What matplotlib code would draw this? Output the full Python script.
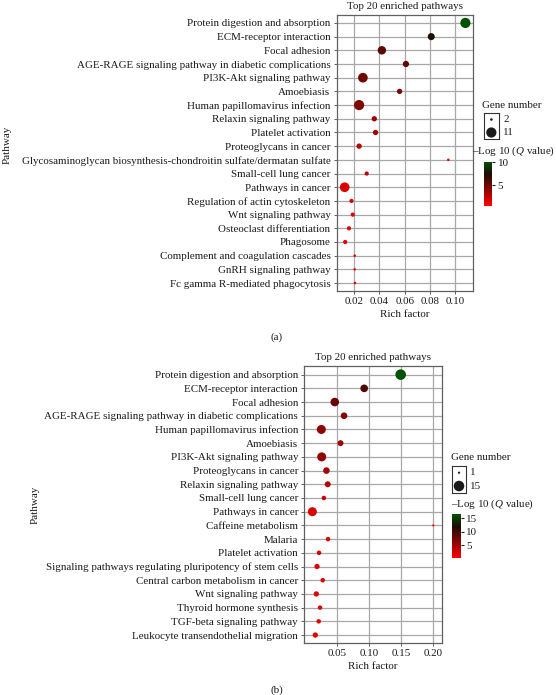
import numpy as np
import matplotlib
matplotlib.use("Agg")
import matplotlib.pyplot as plt
from matplotlib.colors import LinearSegmentedColormap, Normalize
from matplotlib.cm import ScalarMappable

plt.rcParams['font.family'] = ['Liberation Serif', 'DejaVu Serif']
plt.rcParams['mathtext.fontset'] = 'custom'
plt.rcParams['mathtext.rm'] = 'Liberation Serif'
plt.rcParams['mathtext.it'] = 'Liberation Serif:italic'

# ---------------- data: panel (a) ----------------
paths_a = ["Protein digestion and absorption", "ECM-receptor interaction", "Focal adhesion",
           "AGE-RAGE signaling pathway in diabetic complications", "PI3K-Akt signaling pathway",
           "Amoebiasis", "Human papillomavirus infection", "Relaxin signaling pathway",
           "Platelet activation", "Proteoglycans in cancer",
           "Glycosaminoglycan biosynthesis-chondroitin sulfate/dermatan sulfate",
           "Small-cell lung cancer", "Pathways in cancer", "Regulation of actin cytoskeleton",
           "Wnt signaling pathway", "Osteoclast differentiation", "Phagosome",
           "Complement and coagulation cascades", "GnRH signaling pathway",
           "Fc gamma R-mediated phagocytosis"]
rich_a = [0.108, 0.081, 0.042, 0.061, 0.027, 0.056, 0.024, 0.036, 0.037, 0.024,
          0.0945, 0.030, 0.0126, 0.018, 0.019, 0.016, 0.013, 0.0205, 0.0205, 0.0207]
genes_a = [11, 6, 8, 5, 10, 4, 11, 4, 4, 4, 2, 3, 10, 3, 3, 3, 3, 2, 2, 2]
q_a = [10.1, 7.6, 5.6, 5.4, 5.0, 4.6, 4.5, 3.6, 3.5, 2.8, 0.6, 2.4, 1.8, 1.8, 1.7, 1.6, 1.4, 1.3, 1.3, 1.3]

# ---------------- data: panel (b) ----------------
paths_b = ["Protein digestion and absorption", "ECM-receptor interaction", "Focal adhesion",
           "AGE-RAGE signaling pathway in diabetic complications", "Human papillomavirus infection",
           "Amoebiasis", "PI3K-Akt signaling pathway", "Proteoglycans in cancer",
           "Relaxin signaling pathway", "Small-cell lung cancer", "Pathways in cancer",
           "Caffeine metabolism", "Malaria", "Platelet activation",
           "Signaling pathways regulating pluripotency of stem cells",
           "Central carbon metabolism in cancer", "Wnt signaling pathway",
           "Thyroid hormone synthesis", "TGF-beta signaling pathway",
           "Leukocyte transendothelial migration"]
rich_b = [0.149, 0.092, 0.046, 0.0605, 0.025, 0.055, 0.0256, 0.033, 0.035, 0.029, 0.011,
          0.200, 0.0355, 0.0214, 0.0183, 0.0272, 0.0172, 0.0230, 0.0209, 0.0156]
genes_b = [15, 8, 10, 6, 11, 5, 11, 6, 5, 3, 11, 1, 3, 3, 4, 3, 4, 3, 3, 4]
q_b = [16.5, 9.5, 8.0, 6.6, 6.2, 5.2, 6.0, 5.0, 4.2, 3.2, 2.2, 0.2, 2.2, 2.2, 2.0, 2.0, 2.0, 2.0, 1.9, 1.9]

legend_genes_a = [2, 11]
legend_genes_b = [1, 15]
cticks_a = [5, 10]
cticks_b = [5, 10, 15]

W, H = 556, 695
fig = plt.figure(figsize=(W / 100, H / 100), dpi=100)

def box(x0, y0, x1, y1):
    return [x0 / W, 1 - y1 / H, (x1 - x0) / W, (y1 - y0) / H]

cmap = LinearSegmentedColormap.from_list(
    'rbg', [(0, '#ff0000'), (0.72, '#1e0c04'), (1, '#005200')])

FS = 7.9
TXT = '#1a1a1a'
GRID = '#a8a8a8'
SPINE = '#606060'

def sizes(g, glo, ghi, smin, smax):
    g = np.asarray(g, float)
    return smin + (g - glo) / (ghi - glo) * (smax - smin)

def panel(ax_box, paths, rich, genes, q, xlim, xticks, xticklabels, ylim, srange,
          leg_genes, leg_box, leg_lab_x, gene_title_xy, cbar_box, cbar_title_xy, cticks,
          ylab_xy, tag_xy, tag):
    ax = fig.add_axes(box(*ax_box))
    n = len(paths)
    y = np.arange(n)
    glo, ghi = min(genes), max(genes)
    norm = Normalize(vmin=min(q), vmax=max(q))
    s = sizes(genes, glo, ghi, *srange)
    ax.set_axisbelow(True)
    ax.grid(True, color=GRID, lw=0.9)
    ax.scatter(rich, y, s=s, c=q, cmap=cmap, norm=norm, edgecolors='none', zorder=3)
    ax.set_xlim(*xlim)
    ax.set_ylim(*ylim)
    ax.set_yticks(y)
    ax.set_yticklabels(paths, fontsize=FS, color=TXT)
    ax.set_xticks(xticks)
    ax.set_xticklabels(xticklabels, fontsize=FS, color=TXT)
    ax.tick_params(length=2.5, width=0.7, color=SPINE, pad=2)
    for sp in ax.spines.values():
        sp.set_color(SPINE)
        sp.set_linewidth(0.9)
    ax.set_title("Top 20 enriched pathways", fontsize=FS, color=TXT, pad=4)
    ax.set_xlabel("Rich factor", fontsize=FS, color=TXT, labelpad=3)
    fig.text(ylab_xy[0] / W, 1 - ylab_xy[1] / H, "Pathway", rotation=90, fontsize=FS,
             color=TXT, ha='center', va='center')
    fig.text(tag_xy[0] / W, 1 - tag_xy[1] / H, tag, fontsize=FS, color=TXT,
             ha='center', va='center')

    # size legend
    fig.text(gene_title_xy[0] / W, 1 - gene_title_xy[1] / H, "Gene number", fontsize=FS,
             color=TXT, ha='left', va='center')
    lax = fig.add_axes(box(*leg_box))
    lax.set_xlim(0, 1)
    lax.set_ylim(1, 0)
    lax.set_xticks([])
    lax.set_yticks([])
    for sp in lax.spines.values():
        sp.set_color('#333333')
        sp.set_linewidth(0.8)
    ly = [0.25, 0.75]
    lax.scatter([0.5, 0.5], ly, s=sizes(leg_genes, glo, ghi, *srange), c='#1a1a1a',
                edgecolors='none')
    lh = leg_box[3] - leg_box[1]
    for g, yy in zip(leg_genes, ly):
        fig.text(leg_lab_x / W, 1 - (leg_box[1] + yy * lh) / H, str(g), fontsize=FS,
                 color=TXT, ha='left', va='center')

    # colour bar
    fig.text(cbar_title_xy[0] / W, 1 - cbar_title_xy[1] / H,
             "\u2013Log 10 ($\\it{Q}$ value)", fontsize=FS, color=TXT, ha='left', va='center')
    cax = fig.add_axes(box(*cbar_box))
    sm = ScalarMappable(norm=norm, cmap=cmap)
    cb = fig.colorbar(sm, cax=cax, ticks=cticks)
    cb.outline.set_visible(False)
    cb.ax.tick_params(length=2.5, width=0.8, color='#222222', labelsize=FS,
                      labelcolor=TXT, pad=1.5)
    return ax

panel((336.7, 15, 473, 291), paths_a, rich_a, genes_a, q_a,
      xlim=(0.0063, 0.114), xticks=[0.02, 0.04, 0.06, 0.08, 0.10],
      xticklabels=["0.02", "0.04", "0.06", "0.08", "0.10"],
      ylim=(19.58, -0.58), srange=(3.5, 54.0),
      leg_genes=legend_genes_a, leg_box=(484, 113, 498.7, 139), leg_lab_x=503,
      gene_title_xy=(482.5, 105.5), cbar_box=(484, 161.7, 492, 205.7),
      cbar_title_xy=(472.0, 151.5), cticks=cticks_a,
      ylab_xy=(7, 145), tag_xy=(277, 337.5), tag="(a)")

panel((304.3, 366, 441.7, 643), paths_b, rich_b, genes_b, q_b,
      xlim=(-0.0016, 0.2131), xticks=[0.05, 0.10, 0.15, 0.20],
      xticklabels=["0.05", "0.10", "0.15", "0.20"],
      ylim=(19.58, -0.63), srange=(2.6, 58.0),
      leg_genes=legend_genes_b, leg_box=(452.3, 466, 465.7, 492.7), leg_lab_x=470,
      gene_title_xy=(450.7, 457), cbar_box=(452.3, 514.3, 460.7, 558.3),
      cbar_title_xy=(451.5, 504.3), cticks=cticks_b,
      ylab_xy=(35, 505), tag_xy=(277, 690), tag="(b)")

fig.savefig("out.png", dpi=100)
